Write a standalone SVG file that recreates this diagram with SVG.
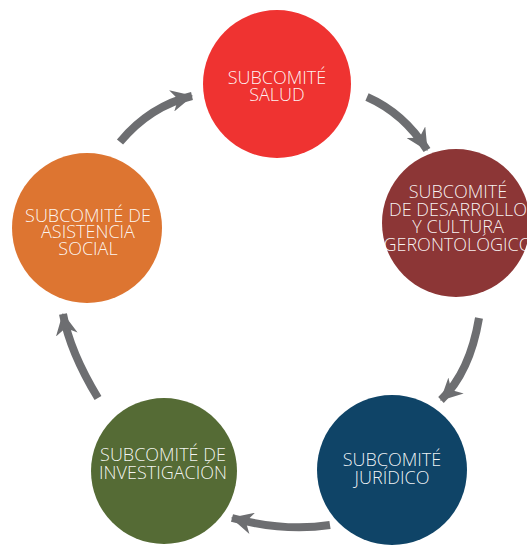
<svg xmlns="http://www.w3.org/2000/svg" width="527" height="546" viewBox="0 0 527 546">
<style>
.lbl{font-family:"Open Sans","Liberation Sans",sans-serif;font-size:18px;font-weight:300;fill:#ffffff;fill-opacity:0.94;text-anchor:middle}
.arr{fill:none;stroke:#6d6e71;stroke-width:8;marker-end:url(#ah)}
</style>
<defs>
<marker id="ah" markerUnits="userSpaceOnUse" viewBox="0 0 20 20" markerWidth="22" markerHeight="22" refX="19" refY="10" orient="auto">
<path d="M0,0 L20,10 L0,20 L6,10 z" fill="#6d6e71"/>
</marker>
</defs>
<rect width="527" height="546" fill="#ffffff"/>
<g id="connectors">
<path class="arr" d="M120,142 Q150,106 192,96"/>
<path class="arr" d="M367,97 C392,108 412,126 427,150"/>
<path class="arr" d="M479,318 Q470,372 441,400"/>
<path class="arr" d="M330,525 Q285,532 232,518"/>
<path class="arr" d="M98,398 Q70,352 63,314"/>
</g>
<g id="salud">
<circle cx="277" cy="84" r="74" fill="#ef3331"/>
<text class="lbl" x="277" y="84">SUBCOMITÉ</text>
<text class="lbl" x="277" y="101">SALUD</text>
</g>
<g id="desarrollo">
<circle cx="456" cy="223" r="74" fill="#8c3636"/>
<text class="lbl" x="458" y="198">SUBCOMITÉ</text>
<text class="lbl" x="458" y="216">DE DESARROLLO</text>
<text class="lbl" x="458" y="233">Y CULTURA</text>
<text class="lbl" x="458" y="251">GERONTOLÓGICO</text>
</g>
<g id="juridico">
<circle cx="392" cy="470" r="75" fill="#0f4467"/>
<text class="lbl" x="392" y="466">SUBCOMITÉ</text>
<text class="lbl" x="392" y="484">JURÍDICO</text>
</g>
<g id="investigacion">
<circle cx="164" cy="471" r="73" fill="#556b35"/>
<text class="lbl" x="163" y="461">SUBCOMITÉ DE</text>
<text class="lbl" x="163" y="479">INVESTIGACIÓN</text>
</g>
<g id="asistencia">
<circle cx="87" cy="228" r="75" fill="#dd7531"/>
<text class="lbl" x="88" y="222">SUBCOMITÉ DE</text>
<text class="lbl" x="88" y="238">ASISTENCIA</text>
<text class="lbl" x="88" y="255">SOCIAL</text>
</g>
</svg>
